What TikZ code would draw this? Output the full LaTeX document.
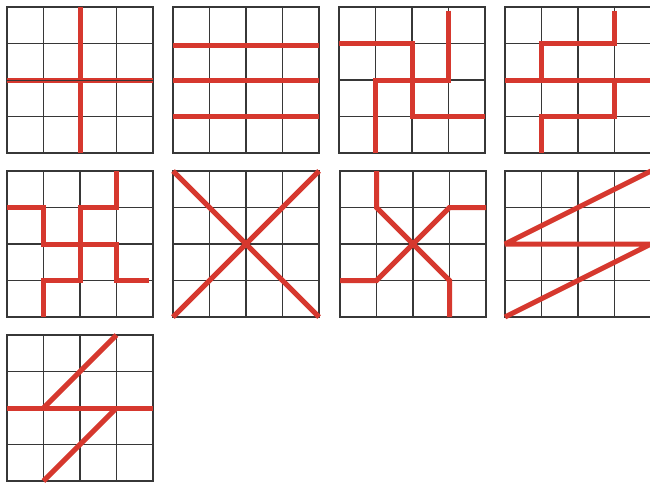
\documentclass[tikz,border=0pt]{standalone}
\definecolor{redc}{RGB}{214,56,46}
\definecolor{gridgray}{RGB}{55,55,55}
\newcommand\cellgrid{\foreach \k in {0,...,4}{\draw[gridline] (\k,0) -- (\k,4); \draw[gridline] (0,\k) -- (4,\k);}}
\begin{document}
\begin{tikzpicture}[x=1pt,y=-1pt,
  cell/.style={x=36.5pt,y=-36.5pt},
  gridline/.style={draw=gridgray,line width=1.3pt,line cap=rect},
  redline/.style={draw=redc,line width=5pt,miter limit=2}]
\useasboundingbox[fill=white] (0,0) rectangle (650,482);
% grid 1
\begin{scope}[shift={(7pt,-7pt)},cell]
\cellgrid
\draw[redline] (2,0) -- (2,4);
\draw[redline] (0,2) -- (4,2);
\draw[draw=gridgray,line width=0.8pt] (0,2) -- (4,2);
\end{scope}
% grid 2
\begin{scope}[shift={(173pt,-7pt)},cell]
\cellgrid
\draw[redline] (0,1.05) -- (4,1.05);
\draw[redline] (0,2) -- (4,2);
\draw[redline] (0,3) -- (4,3);
\end{scope}
% grid 3
\begin{scope}[shift={(339pt,-7pt)},cell]
\cellgrid
\draw[redline] (0,1) -- (2,1) -- (2,3) -- (4,3);
\draw[redline] (3,0.1) -- (3,2) -- (1,2) -- (1,4);
\end{scope}
% grid 4
\begin{scope}[shift={(505pt,-7pt)},cell]
\cellgrid
\draw[redline] (3,0.1) -- (3,1) -- (1,1) -- (1,2);
\draw[redline] (0,2) -- (4,2);
\draw[redline] (3,2) -- (3,3) -- (1,3) -- (1,4);
\end{scope}
% grid 5
\begin{scope}[shift={(7pt,-171pt)},cell]
\cellgrid
\draw[redline] (0,1) -- (1,1) -- (1,2) -- (3,2) -- (3,3) -- (3.9,3);
\draw[redline] (3,0) -- (3,1) -- (2,1) -- (2,3) -- (1,3) -- (1,4);
\end{scope}
% grid 6
\begin{scope}[shift={(173pt,-171pt)},cell]
\cellgrid
\draw[redline] (0,0) -- (4,4);
\draw[redline] (4,0) -- (0,4);
\end{scope}
% grid 7
\begin{scope}[shift={(340pt,-171pt)},cell]
\cellgrid
\draw[redline] (1,0) -- (1,1) -- (3,3) -- (3,4);
\draw[redline] (0,3) -- (1,3) -- (3,1) -- (4,1);
\end{scope}
% grid 8
\begin{scope}[shift={(505pt,-171pt)},cell]
\cellgrid
\draw[redline] (4,0) -- (0,2) -- (4,2) -- (0,4);
\end{scope}
% grid 9
\begin{scope}[shift={(7pt,-335pt)},cell]
\cellgrid
\draw[redline] (3,0) -- (1,2);
\draw[redline] (0,2) -- (4,2);
\draw[redline] (3,2) -- (1,4);
\end{scope}
\end{tikzpicture}
\end{document}
